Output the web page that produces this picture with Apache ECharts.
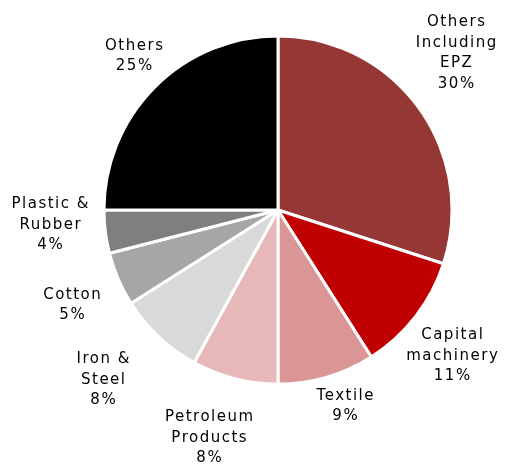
<!DOCTYPE html>
<html><head><meta charset="utf-8">
<script src="https://cdn.jsdelivr.net/npm/echarts@6/dist/echarts.min.js"></script>
<style>html,body{margin:0;padding:0;background:#fff}#c{width:510px;height:466px}</style>
</head><body><div id="c"></div>
<script>
const categories = ["Others Including EPZ", "Capital machinery", "Textile", "Petroleum Products", "Iron & Steel", "Cotton", "Plastic & Rubber", "Others"];
const labelText = ["Others\nIncluding\nEPZ", "Capital\nmachinery", "Textile", "Petroleum\nProducts", "Iron &\nSteel", "Cotton", "Plastic &\nRubber", "Others"];
const shares = [30, 11, 9, 8, 8, 5, 4, 25];
const colors = ["#953735", "#C00000", "#D99694", "#E6B9B8", "#D9D9D9", "#A6A6A6", "#7F7F7F", "#000000"];
const labelPos = [[456, 53], [452, 356], [345, 406], [209, 438], [103, 380], [72, 305], [50, 225], [134, 56]];

// wider character spacing like the reference text
const _fill = CanvasRenderingContext2D.prototype.fillText;
CanvasRenderingContext2D.prototype.fillText = function (t, x, y, w) {
  this.letterSpacing = '1.5px';
  if (this.textAlign === 'center') x += 0.75;
  const r = w === undefined ? _fill.call(this, t, x, y) : _fill.call(this, t, x, y, w);
  this.letterSpacing = '0px';
  return r;
};

const chart = echarts.init(document.getElementById('c'), null, {renderer: 'canvas'});
chart.setOption({
  animation: false,
  series: [{
    type: 'pie',
    center: [278, 210],
    radius: 174,
    startAngle: 90,
    clockwise: true,
    data: categories.map((c, i) => ({name: c, value: shares[i], itemStyle: {color: colors[i]}})),
    itemStyle: {borderColor: '#fff', borderWidth: 3},
    label: {
      show: true,
      position: 'outside',
      formatter: p => labelText[p.dataIndex] + '\n' + p.value + '%',
      fontFamily: 'DejaVu Sans',
      fontSize: 15,
      lineHeight: 20.5,
      color: '#000',
      align: 'center',
      overflow: 'none',
      width: 200
    },
    labelLine: {show: false},
    labelLayout: p => ({x: labelPos[p.dataIndex][0], y: labelPos[p.dataIndex][1], align: 'center', verticalAlign: 'middle'}),
    emphasis: {disabled: true}
  }]
});
</script></body></html>
